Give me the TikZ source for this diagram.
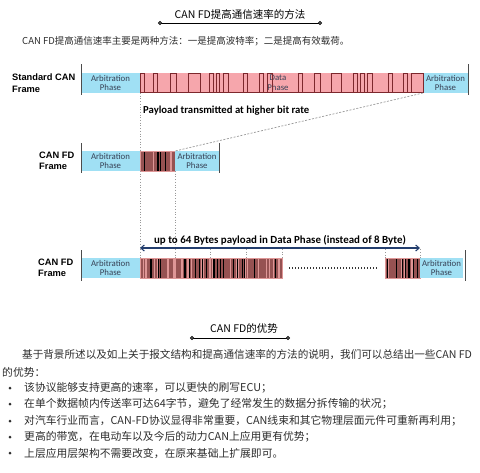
\documentclass[tikz,border=0pt]{standalone}
\usepackage{fontspec}
\setmainfont{Carlito}
\newfontfamily\cjk{Noto Sans CJK SC}
\newfontfamily\arialish{Liberation Sans}
\usetikzlibrary{arrows.meta}
\definecolor{arbcyan}{RGB}{160,224,244}
\definecolor{datapink}{RGB}{246,166,172}
\definecolor{pulsered}{RGB}{125,40,45}
\definecolor{bitbrown}{RGB}{150,82,82}
\definecolor{bitlight}{RGB}{222,150,150}
\definecolor{arrowblue}{RGB}{35,62,110}
\definecolor{txtgray}{RGB}{45,45,45}
\definecolor{arbtext}{RGB}{55,65,85}
\tikzset{
	arb/.style={fill=arbcyan,inner sep=0pt,outer sep=0pt,minimum height=20pt,anchor=north west,align=center,text=arbtext,font=\fontsize{8.8}{9.6}\selectfont},
	databand/.style={fill=datapink,inner sep=0pt,outer sep=0pt,minimum height=20pt,anchor=north west},
	fdbox/.style={fill=bitbrown,inner sep=0pt,outer sep=0pt,minimum height=20pt,anchor=north west},
	framelbl/.style={anchor=west,align=left,inner sep=0pt,font=\arialish\bfseries\fontsize{9.3}{11.5}\selectfont},
	tick/.style={draw=gray!60!black,line width=0.8pt},
	pulse/.style={draw=pulsered,line width=0.6pt},
	guide/.style={draw=gray!80,dotted,line width=0.7pt},
	cjktxt/.style={anchor=west,inner sep=0pt,text=txtgray,font=\cjk\fontsize{10.8}{13}\selectfont},
	titlerule/.style={line width=0.9pt},
}
\newcommand{\fdbits}[4]{%
	\pgfmathtruncatemacro\nbits{(#2-#1)/1.4}
	\foreach \k in {1,...,\nbits}{
		\pgfmathsetmacro\xx{#1+(\k-0.5)*1.4}
		\pgfmathrandominteger{\kind}{0}{3}
		\ifnum\kind=0 \draw[line width=1.1pt,black] (\xx,#3)--(\xx,#4);\fi
		\ifnum\kind=1 \draw[line width=0.6pt,bitlight] (\xx,#3)--(\xx,#4);\fi
	}
	\draw[bitlight,line width=0.5pt] (#1,#3) rectangle (#2,#4);
}
\begin{document}
\begin{tikzpicture}[x=1pt,y=-1pt]
\pgfmathsetseed{11}
\fill[white] (0,0) rectangle (480,472);
\useasboundingbox (0,0) rectangle (480,472);

\node[font=\cjk\fontsize{10.5}{12}\selectfont] (t1) at (240,14) {CAN FD提高通信速率的方法};
\coordinate (r1a) at (160,23);
\coordinate (r1b) at (320,23);
\draw[titlerule] (r1a)--(r1b);
\draw[fill=white,line width=0.9pt] (r1a) circle (1.6);
\draw[fill=white,line width=0.9pt] (r1b) circle (1.6);
\node[cjktxt,font=\cjk\fontsize{9.5}{12}\selectfont] (p0) at (22,41) {CAN FD提高通信速率主要是两种方法：一是提高波特率；二是提高有效载荷。};

\node[framelbl] (l1) at (12,83) {Standard CAN\\Frame};
\node[arb,minimum width=59pt] (sa1) at (81,73) {Arbitration\\Phase};
\node[databand,minimum width=283pt] (sd) at (140,73) {};
\node[arb,minimum width=45pt] (sa2) at (423,73) {Arbitration\\Phase};
\node[text=arbtext,align=center,font=\fontsize{8.8}{9.6}\selectfont] (dp) at (278,83) {Data\\Phase};
\draw[pulse] (140,92.7)--(423,92.7);
\foreach\a/\b in {140/144,153/157,170/176,188/200,209/213,216/219,223/228,243/247,259/263,267/272,298/302,314/320,331/341,353/357,360/364,367/372,388/392,403/407,411/423}{
	\draw[pulse] (\a,92.7)--(\a,73.6)--(\b,73.6)--(\b,92.7);
}
\draw[tick] (81,64)--(81,95);
\draw[tick] (468.5,64)--(468.5,95);
\node[font=\bfseries\fontsize{10.7}{12}\selectfont,anchor=west,inner sep=0pt] (pl) at (143,111) {Payload transmitted at higher bit rate};

\node[framelbl] (l2) at (39,161) {CAN FD\\Frame};
\node[arb,minimum width=59pt] (fa1) at (81,151) {Arbitration\\Phase};
\node[fdbox,minimum width=35pt] (f2d) at (140,151) {};
\fdbits{140}{175}{151}{171}
\node[arb,minimum width=44pt] (fa2) at (175,151) {Arbitration\\Phase};
\draw[tick] (81,143)--(81,173);
\draw[tick] (219,143)--(219,173);

\draw[guide] (sd.south west)--(f2d.north west);
\draw[guide,dotted,dash pattern=on 2pt off 1.5pt] (sd.south east)--(f2d.north east);

\node[framelbl] (l3) at (38,268) {CAN FD\\Frame};
\node[arb,minimum width=59pt] (ga1) at (81,258) {Arbitration\\Phase};
\node[fdbox,minimum width=142pt] (g3d) at (140,258) {};
\fdbits{140}{282}{258}{278}
\node[fdbox,minimum width=35pt] (g3e) at (385,258) {};
\fdbits{385}{420}{258}{278}
\node[arb,minimum width=43pt] (ga2) at (420,258) {Arbitration\\Phase};
\draw[tick] (81,250)--(81,281);
\draw[tick] (465,250)--(465,281);
\coordinate (dots1) at (289,268);
\coordinate (dots2) at (378,268);
\draw[black!80,line width=1.1pt,dash pattern=on 1.1pt off 1.9pt] (dots1)--(dots2);

\draw[guide] (f2d.south west)--(g3d.north west);
\draw[guide] (f2d.south east)--(f2d.south east |- g3d.north);
\foreach\x in {210,246,282}{
	\draw[guide] (\x,249)--(\x,258);
}
\draw[guide] (g3e.north west)--++(0,-9);
\draw[guide] (g3e.north east)--++(0,-9);
\coordinate (al) at (140,248);
\coordinate (ar) at (420,248);
\draw[arrowblue,line width=1.1pt,{Straight Barb[length=3.5pt,width=6pt]}-{Straight Barb[length=3.5pt,width=6pt]}] (al)--(ar);
\node[font=\bfseries\fontsize{10.9}{12}\selectfont,inner sep=0pt] (up) at (280,240) {up to 64 Bytes payload in Data Phase (instead of 8 Byte)};

\node[font=\cjk\fontsize{10.5}{12}\selectfont] (t2) at (244,328) {CAN FD的优势};
\coordinate (r2a) at (192,338);
\coordinate (r2b) at (288,338);
\draw[titlerule] (r2a)--(r2b);
\draw[fill=white,line width=0.9pt] (r2a) circle (1.6);
\draw[fill=white,line width=0.9pt] (r2b) circle (1.6);
\node[cjktxt,font=\cjk\fontsize{10.6}{13}\selectfont] (p1) at (22,355) {基于背景所述以及如上关于报文结构和提高通信速率的方法的说明，我们可以总结出一些CAN FD};
\node[cjktxt] (p2) at (2,372) {的优势：};
\node[cjktxt] (b1) at (24,388) {该协议能够支持更高的速率，可以更快的刷写ECU；};
\node[cjktxt] (b2) at (24,404) {在单个数据帧内传送率可达64字节，避免了经常发生的数据分拆传输的状况；};
\node[cjktxt] (b3) at (24,421) {对汽车行业而言，CAN-FD协议显得非常重要，CAN线束和其它物理层面元件可重新再利用；};
\node[cjktxt] (b4) at (24,437) {更高的带宽，在电动车以及今后的动力CAN上应用更有优势；};
\node[cjktxt] (b5) at (24,453) {上层应用层架构不需要改变，在原来基础上扩展即可。};
\foreach\y in {388,404,421,437,453}{
	\fill[txtgray] (10,\y) circle (1.5);
}
\end{tikzpicture}
\end{document}
